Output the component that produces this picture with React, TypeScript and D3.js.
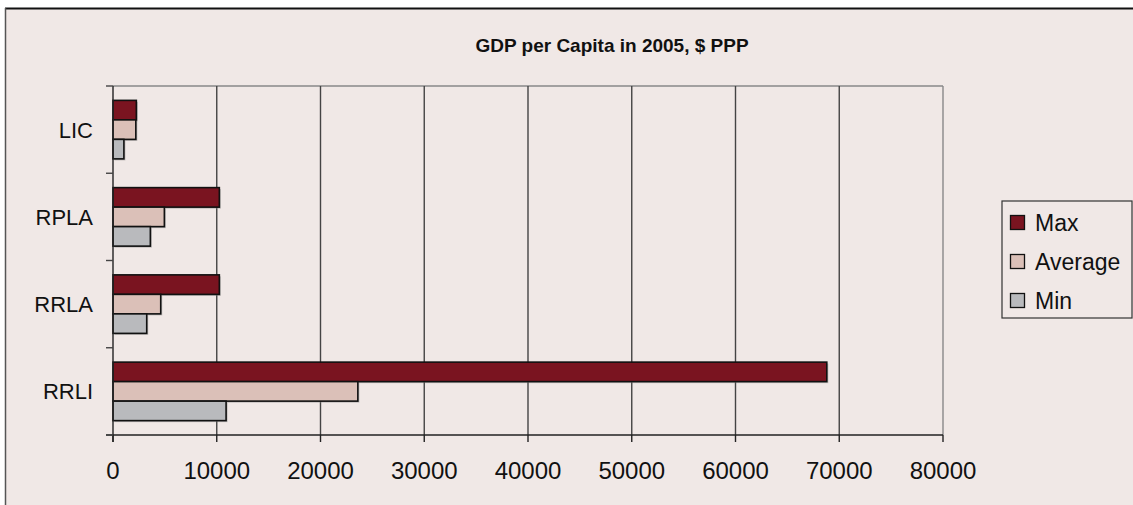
import React from "react";
import * as d3 from "d3";

const categories = ["LIC", "RPLA", "RRLA", "RRLI"];
const seriesNames = ["Max", "Average", "Min"];
const maxValues = [2250, 10250, 10250, 68800];
const averageValues = [2200, 4950, 4600, 23600];
const minValues = [1050, 3600, 3250, 10900];
const xTicks = [0, 10000, 20000, 30000, 40000, 50000, 60000, 70000, 80000];
const colors = ["#7a1420", "#dbc0b8", "#b9babd"];

const W = 1133;
const H = 505;
const plot = { left: 113, right: 943, top: 86, bottom: 435 };

export default function App() {
  const x = d3.scaleLinear().domain([0, 80000]).range([plot.left, plot.right]);
  const y = d3.scaleBand<string>().domain(categories).range([plot.top, plot.bottom]).padding(0);
  const ySub = d3
    .scaleBand<string>()
    .domain(seriesNames)
    .range([0, y.bandwidth()])
    .paddingInner(0)
    .paddingOuter(0.737);
  const values = [maxValues, averageValues, minValues];
  const font = "Liberation Sans, Arial, sans-serif";
  const boundaries = categories.map((c) => y(c) as number).concat([plot.bottom]);

  return (
    <svg
      width={W}
      height={H}
      style={{ position: "absolute", left: 0, top: 0, display: "block" }}
      fontFamily={font}
    >
      <rect x={0} y={0} width={W} height={H} fill="#ffffff" />
      <rect x={5} y={8} width={W + 10} height={H + 10} fill="#f0e8e6" />
      <line x1={5} x2={W} y1={8.5} y2={8.5} stroke="#111" strokeWidth={2} />
      <line x1={5.5} x2={5.5} y1={8} y2={H} stroke="#555" strokeWidth={1.5} />

      <text x={612} y={52} textAnchor="middle" fontSize={19} fontWeight="bold" fill="#111">
        GDP per Capita in 2005, $ PPP
      </text>

      <line x1={plot.left} x2={plot.right} y1={plot.top} y2={plot.top} stroke="#888" strokeWidth={1.5} />
      {xTicks.slice(1).map((t, i) => (
        <line
          key={"g" + t}
          x1={x(t)}
          x2={x(t)}
          y1={plot.top}
          y2={plot.bottom}
          stroke={i === xTicks.length - 2 ? "#888" : "#444"}
          strokeWidth={1.4}
        />
      ))}

      {categories.map((c, ci) =>
        seriesNames.map((s, si) => {
          const y0 = (y(c) as number) + (ySub(s) as number);
          return (
            <g key={c + s}>
              <rect
                x={x(0) + 1.5}
                y={y0 + 1.5}
                width={x(values[si][ci]) - x(0)}
                height={ySub.bandwidth()}
                fill="#888"
                opacity={0.5}
              />
              <rect
                x={x(0)}
                y={y0}
                width={x(values[si][ci]) - x(0)}
                height={ySub.bandwidth()}
                fill={colors[si]}
                stroke="#111"
                strokeWidth={1.6}
              />
            </g>
          );
        })
      )}

      <line x1={plot.left - 7} x2={plot.right} y1={plot.bottom} y2={plot.bottom} stroke="#222" strokeWidth={1.4} />
      <line x1={plot.left} x2={plot.left} y1={plot.top} y2={plot.bottom + 7} stroke="#222" strokeWidth={1.4} />
      {xTicks.map((t) => (
        <g key={"t" + t}>
          <line x1={x(t)} x2={x(t)} y1={plot.bottom} y2={plot.bottom + 7} stroke="#222" strokeWidth={1.4} />
          <text x={x(t)} y={479} textAnchor="middle" fontSize={24} fill="#111">
            {t}
          </text>
        </g>
      ))}
      {boundaries.map((b, i) => (
        <line key={"yt" + i} x1={plot.left - 7} x2={plot.left} y1={b} y2={b} stroke="#444" strokeWidth={1.4} />
      ))}
      {categories.map((c) => (
        <text
          key={"c" + c}
          x={93}
          y={(y(c) as number) + y.bandwidth() / 2 + 8}
          textAnchor="end"
          fontSize={22}
          fill="#111"
        >
          {c}
        </text>
      ))}

      <rect x={1002} y={201} width={130} height={117} fill="#f0e8e6" stroke="#333" strokeWidth={1.2} />
      {seriesNames.map((s, i) => {
        const cy = 222.5 + i * 39;
        return (
          <g key={"l" + s}>
            <rect x={1010.5} y={cy - 7} width={14} height={14} fill={colors[i]} stroke="#111" strokeWidth={1.3} />
            <text x={1035} y={cy + 8} fontSize={23} fill="#111">
              {s}
            </text>
          </g>
        );
      })}
    </svg>
  );
}
